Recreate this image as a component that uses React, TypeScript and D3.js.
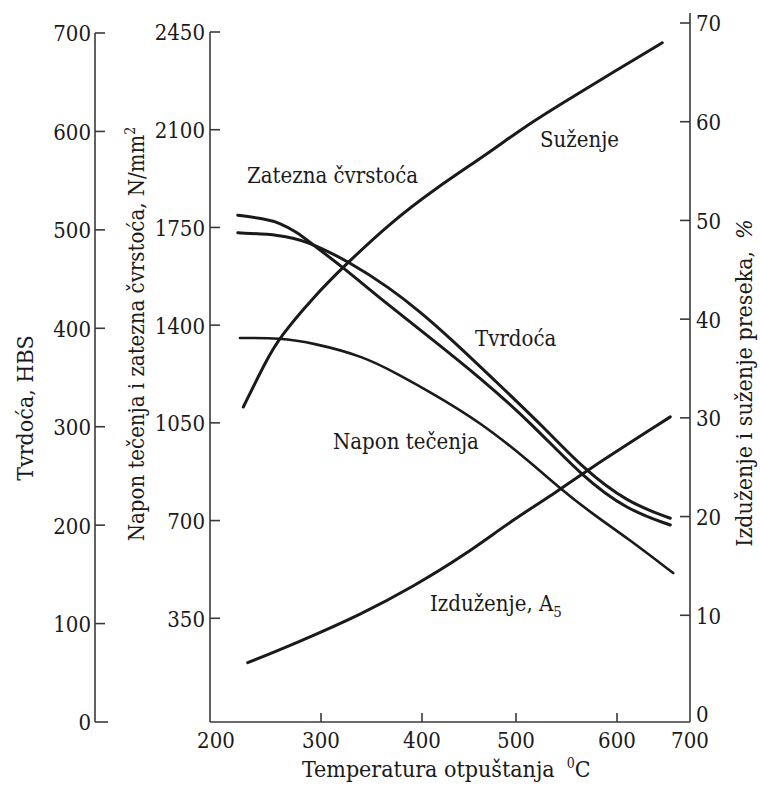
import { scaleLinear, line, curveBasis } from 'd3';

const font = '"DejaVu Serif Condensed", "DejaVu Serif", serif';
const ink = '#1a1a1a';
const axisInk = '#3a3a3a';

// tick values
const tempTicks = [200, 300, 400, 500, 600, 700];
const hbsTicks = [0, 100, 200, 300, 400, 500, 600, 700];
const stressTicks = [350, 700, 1050, 1400, 1750, 2100, 2450];
const pctTicks = [0, 10, 20, 30, 40, 50, 60, 70];

// Tvrdoca, HBS
const tvrdocaT = [225, 263, 287, 329, 368, 398, 430, 483, 529, 566, 614, 673];
const tvrdocaHBS = [497, 495, 489, 467, 441, 417, 390, 342, 298, 258, 223, 207];

// Zatezna cvrstoca, N/mm2
const zateznaT = [225, 250, 263, 278, 293, 319, 363, 409, 462, 514, 566, 614, 673];
const zateznaN = [1794, 1780, 1766, 1734, 1687, 1615, 1483, 1354, 1211, 1053, 856, 738, 684];

// Napon tecenja, N/mm2
const naponT = [227, 263, 293, 342, 378, 409, 462, 514, 542, 576, 614, 677];
const naponN = [1354, 1354, 1336, 1289, 1221, 1160, 1053, 910, 820, 723, 638, 512];

// Izduzenje A5, %
const izduzenjeT = [234, 278, 342, 391, 444, 497, 542, 566, 673];
const izduzenjePct = [5.2, 7.2, 10.2, 12.9, 16.0, 19.7, 22.6, 24.4, 30.1];

// Suzenje, %
const suzenjeT = [230, 251, 263, 293, 322, 368, 412, 472, 507, 551, 596, 662];
const suzenjePct = [31.1, 35.9, 38.2, 42.2, 45.3, 49.7, 53.1, 56.9, 59.4, 62.2, 65.0, 68.0];

// the scanned x axis is not evenly spaced, so the scale follows its ticks
const x = scaleLinear().domain(tempTicks).range([210, 321, 422, 516, 617, 690]);
const yH = scaleLinear().domain([0, 700]).range([722, 33]);
const yN = scaleLinear().domain([0, 2450]).range([716, 32]);
const yP = scaleLinear().domain([0, 70]).range([714, 23]);

const path = (ts: number[], vs: number[], y: (v: number) => number) =>
  line<number>()
    .x((t) => x(t))
    .y((_, i) => y(vs[i]))
    .curve(curveBasis)(ts) || '';

const Curve = ({ d, w = 3 }: { d: string; w?: number }) => (
  <path d={d} fill="none" stroke={ink} strokeWidth={w} strokeLinecap="round" />
);

const Txt = (props: any) => (
  <text style={{ fontFamily: font }} fontSize={22} fill={ink} {...props} />
);

export default function App() {
  const xl = x(200);
  const xr = x(700);
  const yb = yH(0);
  const hx = 95;

  return (
    <svg width={760} height={787} style={{ position: 'absolute', left: 0, top: 0, background: '#fff' }}>
      {/* HBS axis */}
      <line x1={hx} x2={hx} y1={yH(700)} y2={yb} stroke={axisInk} strokeWidth={1.6} />
      {hbsTicks.map((t) => (
        <g key={'h' + t}>
          <line x1={hx} x2={hx + (t === 0 ? 13 : 10)} y1={yH(t)} y2={yH(t)} stroke={axisInk} strokeWidth={1.6} />
          <Txt x={hx - 4} y={yH(t)} dy="0.38em" textAnchor="end">{t}</Txt>
        </g>
      ))}

      {/* stress axis */}
      <line x1={xl} x2={xl} y1={yN(2450)} y2={yb} stroke={axisInk} strokeWidth={1.6} />
      {stressTicks.map((t) => (
        <g key={'n' + t}>
          <line x1={xl} x2={xl + 10} y1={yN(t)} y2={yN(t)} stroke={axisInk} strokeWidth={1.6} />
          <Txt x={xl - 5} y={yN(t)} dy="0.38em" textAnchor="end">{t}</Txt>
        </g>
      ))}

      {/* percent axis */}
      <line x1={xr} x2={xr} y1={13} y2={yb} stroke={axisInk} strokeWidth={1.6} />
      {pctTicks.map((t) => (
        <g key={'p' + t}>
          {t > 0 && <line x1={xr - 10} x2={xr} y1={yP(t)} y2={yP(t)} stroke={axisInk} strokeWidth={1.6} />}
          <Txt x={xr + 6} y={yP(t)} dy="0.38em" textAnchor="start">{t}</Txt>
        </g>
      ))}

      {/* temperature axis */}
      <line x1={xl} x2={xr} y1={yb} y2={yb} stroke={axisInk} strokeWidth={1.6} />
      {tempTicks.map((t) => (
        <g key={'t' + t}>
          {t > 200 && t < 700 && (
            <line x1={x(t)} x2={x(t)} y1={yb} y2={yb - 9} stroke={axisInk} strokeWidth={1.6} />
          )}
          <Txt x={x(t) + (t === 200 ? 6 : 0)} y={748} textAnchor="middle">{t}</Txt>
        </g>
      ))}

      {/* axis titles */}
      <Txt x={302} y={777} fontSize={23}>
        Temperatura otpuštanja
        <tspan dx={12} dy={-9} fontSize={14}>0</tspan>
        <tspan dy={9}>C</tspan>
      </Txt>
      <Txt transform="translate(33,408) rotate(-90)" textAnchor="middle" fontSize={23}>
        Tvrdoća, HBS
      </Txt>
      <Txt transform="translate(144,334) rotate(-90)" textAnchor="middle" fontSize={22}>
        Napon tečenja i zatezna čvrstoća, N/mm
        <tspan dy={-9} fontSize={14}>2</tspan>
      </Txt>
      <Txt transform="translate(752,383) rotate(-90)" textAnchor="middle" fontSize={23}>
        Izduženje i suženje preseka,
        <tspan dx={12} fontStyle="italic">%</tspan>
      </Txt>

      {/* curves */}
      <Curve d={path(suzenjeT, suzenjePct, yP)} />
      <Curve d={path(izduzenjeT, izduzenjePct, yP)} />
      <Curve d={path(zateznaT, zateznaN, yN)} />
      <Curve d={path(tvrdocaT, tvrdocaHBS, yH)} />
      <Curve d={path(naponT, naponN, yN)} w={2.6} />

      {/* curve labels */}
      <Txt x={247} y={183}>Zatezna čvrstoća</Txt>
      <Txt x={540} y={147}>Suženje</Txt>
      <Txt x={475} y={346}>Tvrdoća</Txt>
      <Txt x={333} y={449}>Napon tečenja</Txt>
      <Txt x={430} y={611}>
        Izduženje, A<tspan dy={6} fontSize={15}>5</tspan>
      </Txt>
    </svg>
  );
}
